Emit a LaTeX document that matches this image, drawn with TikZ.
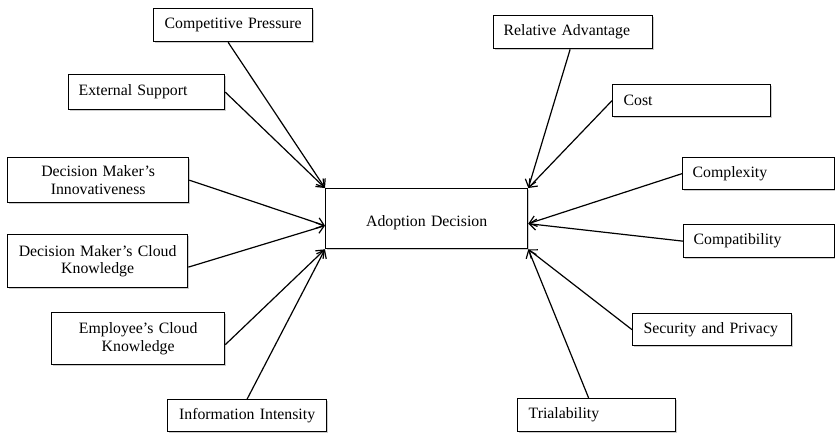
\documentclass[tikz,border=0pt]{standalone}
\usepackage{fontspec}
\setmainfont{Liberation Serif}
\usetikzlibrary{shadows,arrows.meta}
\begin{document}
\begin{tikzpicture}[x=1pt,y=-1pt,
  box/.style={draw, line width=1.3pt, fill=white, anchor=north west, inner sep=0pt,
    font=\fontsize{15.8}{17.5}\selectfont,
    drop shadow={shadow xshift=1.5pt, shadow yshift=-1.5pt, fill=black!40, opacity=0.5}},
  conn/.style={line width=1.2pt, -{Straight Barb[length=7pt,width=11pt]}}
]
\useasboundingbox (0,0) rectangle (835,432);
% left
\node[box, minimum width=159pt, minimum height=33pt, text width=159pt, align=center] (cp) at (153,8) {Competitive Pressure};
\node[box, minimum width=156pt, minimum height=35pt, text width=136pt, align=left] (es) at (68,74) {External Support};
\node[box, minimum width=181pt, minimum height=45pt, text width=181pt, align=center] (dmi) at (7,157) {Decision Maker’s\\Innovativeness};
\node[box, minimum width=180pt, minimum height=53pt, text width=180pt, align=center] (dmc) at (7,234) {Decision Maker’s Cloud\\Knowledge};
\node[box, minimum width=173pt, minimum height=52pt, text width=173pt, align=center] (ek) at (51,312) {Employee’s Cloud\\Knowledge};
\node[box, minimum width=159pt, minimum height=32pt, text width=159pt, align=center] (ii) at (167,399) {Information Intensity};
% center
\node[box, minimum width=202pt, minimum height=60pt, text width=202pt, align=center] (ad) at (325,188) {\raisebox{-4pt}[\height][\depth]{Adoption Decision}};
% right
\node[box, minimum width=159pt, minimum height=33pt, text width=139pt, align=left] (ra) at (493,15) {Relative Advantage};
\node[box, minimum width=158pt, minimum height=32pt, text width=136pt, align=left] (cost) at (612,84) {Cost};
\node[box, minimum width=152pt, minimum height=32pt, text width=132pt, align=left] (cx) at (682,157) {Complexity};
\node[box, minimum width=151pt, minimum height=33pt, text width=131pt, align=left] (cb) at (683,224) {Compatibility};
\node[box, minimum width=159pt, minimum height=32pt, text width=137pt, align=left] (sp) at (632,313) {Security and Privacy};
\node[box, minimum width=158pt, minimum height=33pt, text width=136pt, align=left] (tr) at (517,398) {Trialability};
% targets
\coordinate (adl) at ([yshift=-7pt]ad.west);
\coordinate (adr) at ([yshift=-5pt]ad.east);
% connectors
\draw[conn] ([xshift=-5pt]cp.south) -- (ad.north west);
\draw[conn] (es.east) -- (ad.north west);
\draw[conn] (dmi.east) -- (adl);
\draw[conn] ([yshift=-6pt]dmc.east) -- (adl);
\draw[conn] ([yshift=-6pt]ek.east) -- (ad.south west);
\draw[conn] (ii.north) -- (ad.south west);
\draw[conn] ([xshift=-3pt]ra.south) -- (ad.north east);
\draw[conn] (cost.west) -- (ad.north east);
\draw[conn] (cx.west) -- (adr);
\draw[conn] (cb.west) -- (adr);
\draw[conn] (sp.west) -- (ad.south east);
\draw[conn] ([xshift=-8pt]tr.north) -- (ad.south east);
\end{tikzpicture}
\end{document}
